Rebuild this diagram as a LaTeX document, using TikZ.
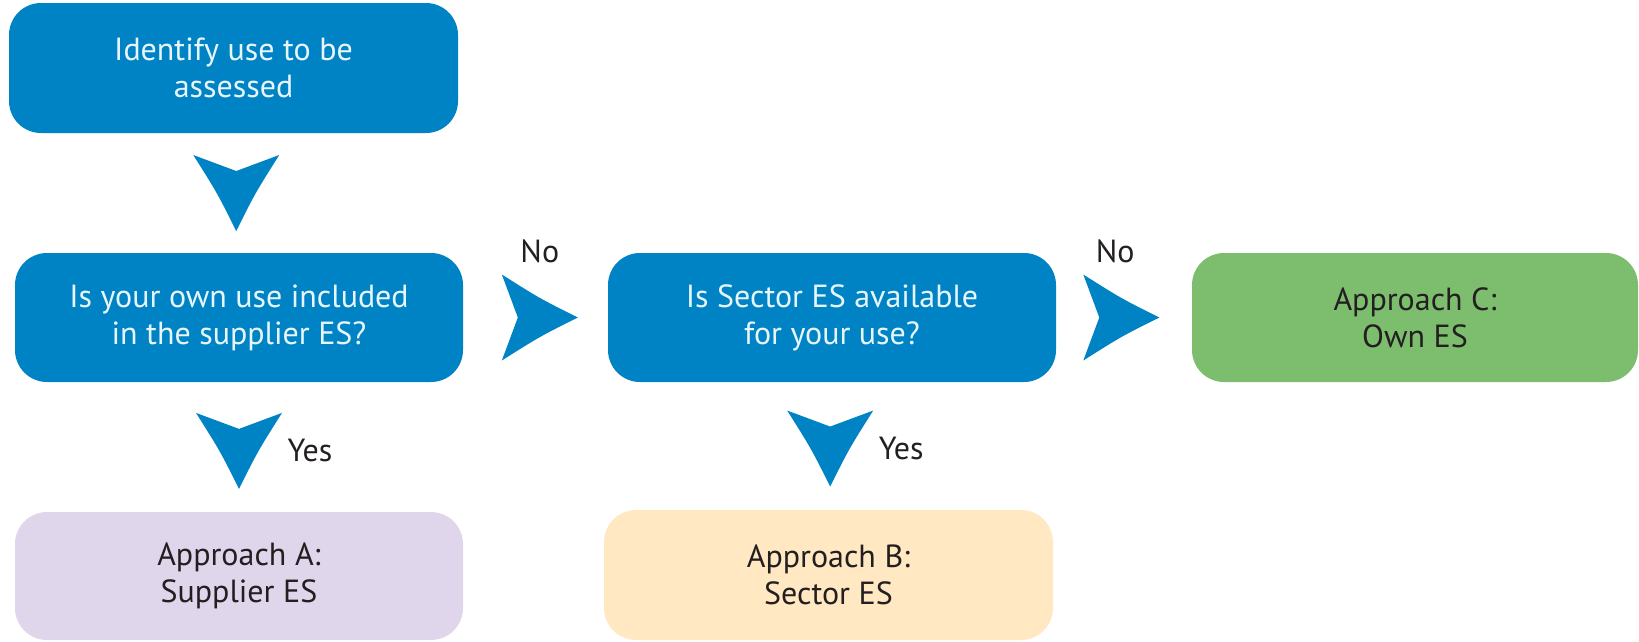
\documentclass[tikz,border=0pt]{standalone}
\usepackage{fontspec}
\setmainfont{PT Sans}
\usetikzlibrary{calc,positioning}
\definecolor{esblue}{HTML}{0083C4}
\definecolor{esgreen}{HTML}{7DBE6E}
\definecolor{eslilac}{HTML}{E0D6EB}
\definecolor{essand}{HTML}{FFE8C2}
\definecolor{esink}{HTML}{231F20}
\definecolor{eswhite}{HTML}{E8F6FC}

\tikzset{
  stage/.style={rounded corners=32pt, minimum width=448pt, minimum height=129pt,
    align=center, inner sep=0pt, font=\fontsize{32}{37}\selectfont},
  ask/.style={stage, fill=esblue, text=eswhite},
  result/.style={stage, text=esink},
  lbl/.style={text=esink, inner sep=0pt, font=\fontsize{32}{38}\selectfont},
  pics/bigarrow/.style={code={
    \fill[esblue] (-38,-43) .. controls (0,-19) .. (38,0)
      .. controls (0,19) .. (-38,43) -- (-22,0) -- cycle;
  }}
}

\begin{document}
\begin{tikzpicture}[x=1pt,y=-1pt]
\useasboundingbox (0,0) rectangle (1639,641);
% question boxes
\node[ask, minimum width=449pt, minimum height=130pt] (ident) at (233.5,68) {Identify use to be\\assessed};
\node[ask] (own) at (239,317.5) {Is your own use included\\in the supplier ES?};
\node[ask] (sector) at (832,317.5) {Is Sector ES available\\for your use?};
% approaches
\node[result, fill=esgreen, minimum width=446pt] (apprC) at (1415,317.5) {Approach C:\\Own ES};
\node[result, fill=eslilac, minimum height=128pt] (apprA) at (239,576) {Approach A:\\Supplier ES};
\node[result, fill=essand, minimum width=449pt, minimum height=130pt] (apprB) at (828.5,575) {Approach B:\\Sector ES};

% arrows
\coordinate (down0) at ($(ident.south)!0.5!(own.north)$);
\coordinate (yesA) at ($(own.south)!0.53!(apprA.north)$);
\coordinate (noA) at ($(own.east)!0.53!(sector.west)$);
\coordinate (yesB) at ($(sector.south)!0.52!(apprB.north)$);
\coordinate (noB) at ($(sector.east)!0.48!(apprC.west)$);
\pic[rotate=-90] at (down0) {bigarrow};
\pic[rotate=-90] at (yesA) {bigarrow};
\pic[rotate=-90] at (yesB) {bigarrow};
\pic at (noA) {bigarrow};
\pic at (noB) {bigarrow};

\node[lbl] (noAlbl) at ([yshift=66pt]noA) {No};
\node[lbl] (noBlbl) at ([yshift=66pt,xshift=-6pt]noB) {No};
\node[lbl] (yesAlbl) at ([xshift=71pt]yesA) {Yes};
\node[lbl] (yesBlbl) at ([xshift=71pt]yesB) {Yes};
\end{tikzpicture}
\end{document}
